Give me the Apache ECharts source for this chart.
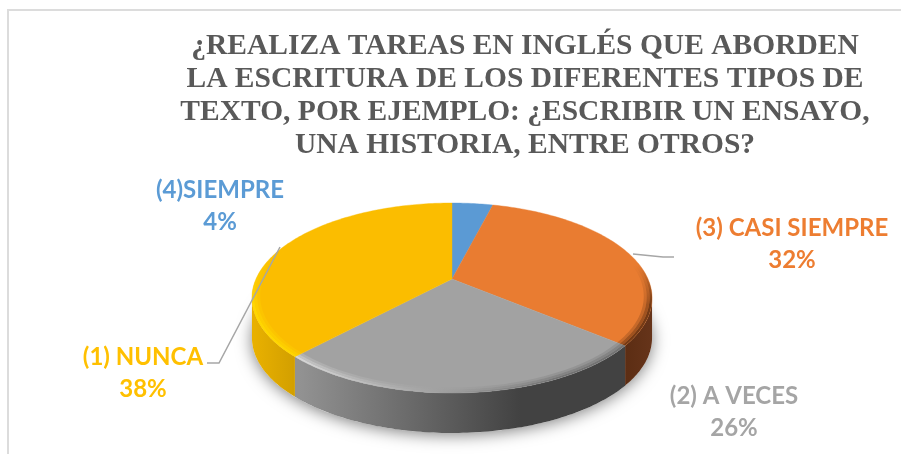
<!DOCTYPE html>
<html><head><meta charset="utf-8">
<style>html,body{margin:0;padding:0;background:#fff}#c{width:901px;height:454px}</style>
<script src="https://cdn.jsdelivr.net/npm/echarts@6/dist/echarts.min.js"></script>
</head><body><div id="c"></div>
<script>
const titleText = "¿REALIZA TAREAS EN INGLÉS QUE ABORDEN\nLA ESCRITURA DE LOS DIFERENTES TIPOS DE\nTEXTO, POR EJEMPLO: ¿ESCRIBIR UN ENSAYO,\nUNA HISTORIA, ENTRE OTROS?";
const categories = ["(4)SIEMPRE", "(3) CASI SIEMPRE", "(2) A VECES", "(1) NUNCA"];
const values = [4, 32, 26, 38];
const colors = ["#5b9bd5", "#ed7d31", "#a5a5a5", "#ffc000"];
const topColors = ["#5b9ad4", "#e97c31", "#a2a2a2", "#fbbd00"];
const labelAnchors = [[220, 190], [792, 228], [734, 396], [143, 357]];
const leaders = [
  null,
  [[633, 254], [663, 257], [674, 257]],
  null,
  [[207, 363], [219, 363], [280, 247]]
];

const CX = 452, CY = 279, RX = 196, RY = 91.2, PERSP = 0.2, DEPTH = 40;
const total = values.reduce((a, b) => a + b, 0);
const deg = Math.PI / 180;
function proj(thetaDeg, r) {
  const t = thetaDeg * deg, x = Math.sin(t) * r, z = -Math.cos(t) * r;
  const d = 1 - PERSP * z;
  return [CX + RX * x / d, CY + RY * z / d];
}
function arc(a, b, r) {
  const pts = [], n = Math.max(2, Math.ceil(Math.abs(b - a)));
  for (let i = 0; i <= n; i++) pts.push(proj(a + (b - a) * i / n, r));
  return pts;
}
function grad(x0, y0, x1, y1, c0, c1) {
  return new echarts.graphic.LinearGradient(x0, y0, x1, y1, [
    { offset: 0, color: c0 }, { offset: 1, color: c1 }], true);
}
const WALL_A = 101.5, WALL_B = 258.5;
const wallFill = [
  null,
  grad(620, 0, 652, 0, '#5a2c12', '#66341a'),
  grad(300, 0, 520, 0, '#929292', '#424242'),
  grad(255, 0, 300, 0, '#e8b000', '#cf9d00')
];
const rimFill = [
  null,
  grad(0, 265, 0, 305, 'rgba(110,55,20,0)', 'rgba(110,55,20,1)'),
  grad(300, 0, 560, 0, '#d8d8d8', '#707070'),
  grad(0, 250, 0, 305, 'rgba(255,216,0,0)', 'rgba(255,216,0,1)')
];
const rimRange = [null, [72, null], [null, null], [null, 300]];
const rimBands = [[1, 0.988, 0.95], [0.988, 0.974, 0.6], [0.974, 0.96, 0.28]];

function renderItem(params, api) {
  const i = params.dataIndex, v = api.value(1);
  const before = values.slice(0, i).reduce((a, b) => a + b, 0);
  const a = before / total * 360, b = (before + v) / total * 360;
  const kids = [];
  if (i === 0) {
    const base = arc(0, 360, 1).map(p => [p[0], p[1] + DEPTH]);
    kids.push({ type: 'polygon', shape: { points: base }, z2: 0,
      style: { fill: '#fff', shadowBlur: 16, shadowColor: 'rgba(0,0,0,0.5)', shadowOffsetX: 0, shadowOffsetY: 2 } });
  }
  const wa = Math.max(a, WALL_A), wb = Math.min(b, WALL_B);
  if (wb > wa) {
    const upper = arc(wa, wb, 1);
    const lower = upper.map(p => [p[0], p[1] + DEPTH]).reverse();
    kids.push({ type: 'polygon', shape: { points: upper.concat(lower) }, z2: 1,
      style: { fill: wallFill[i] } });
  }
  const face = [[CX, CY]].concat(arc(a, b, 1));
  kids.push({ type: 'polygon', shape: { points: face }, z2: 2,
    style: { fill: topColors[i], stroke: topColors[i], lineWidth: 0.4 } });
  if (rimRange[i]) {
    const ra = rimRange[i][0] === null ? a : rimRange[i][0];
    const rb = rimRange[i][1] === null ? b : rimRange[i][1];
    rimBands.forEach(([r0, r1, op]) => {
      const pts = arc(ra, rb, r0).concat(arc(ra, rb, r1).reverse());
      kids.push({ type: 'polygon', shape: { points: pts }, z2: 3,
        style: { fill: rimFill[i], opacity: op } });
    });
  }
  if (leaders[i]) {
    kids.push({ type: 'polyline', shape: { points: leaders[i] }, z2: 4,
      style: { fill: null, stroke: '#a6a6a6', lineWidth: 1.5 } });
  }
  const [lx, ly] = labelAnchors[i];
  kids.push({ type: 'text', z2: 5, style: { text: categories[i], x: lx, y: ly, textAlign: 'center', textVerticalAlign: 'middle', fill: colors[i], font: 'bold 24px Lato' } });
  kids.push({ type: 'text', z2: 5, style: { text: v + '%', x: lx, y: ly + 32, textAlign: 'center', textVerticalAlign: 'middle', fill: colors[i], font: 'bold 24px Lato' } });
  return { type: 'group', children: kids };
}

const chart = echarts.init(document.getElementById('c'), null, { renderer: 'canvas' });
chart.setOption({
  animation: false,
  backgroundColor: '#fff',
  title: {
    text: titleText, left: 520, top: 25, textAlign: 'center',
    textStyle: { fontFamily: 'Liberation Serif', fontWeight: 'bold', fontSize: 29.5, lineHeight: 33, color: '#595959' }
  },
  graphic: [{ type: 'polyline', silent: true, shape: { points: [[8, 454], [8, 10], [901, 10]] }, style: { fill: null, stroke: '#dcdcdc', lineWidth: 2 } }],
  series: [{
    type: 'custom', coordinateSystem: 'none', silent: true,
    data: values.map((v, i) => [i, v]),
    renderItem
  }]
});
</script></body></html>
